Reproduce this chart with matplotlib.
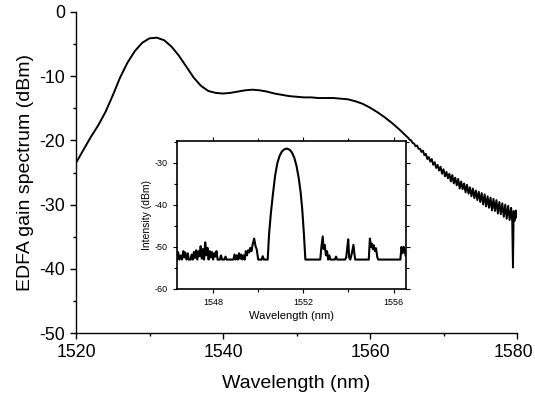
import matplotlib
matplotlib.use("Agg")
import matplotlib.pyplot as plt
import matplotlib.transforms as mtransforms
from matplotlib.ticker import MultipleLocator

plt.rcParams['font.family'] = ['Liberation Sans', 'DejaVu Sans']
plt.rcParams['axes.unicode_minus'] = False

# Main EDFA gain spectrum (smooth part, 1 nm steps)
main_wl = [1520, 1521, 1522, 1523, 1524, 1525, 1526, 1527, 1528, 1529,
           1530, 1531, 1532, 1533, 1534, 1535, 1536, 1537, 1538, 1539,
           1540, 1541, 1542, 1543, 1544, 1545, 1546, 1547, 1548, 1549,
           1550, 1551, 1552, 1553, 1554, 1555, 1556, 1557, 1558, 1559,
           1560, 1561, 1562, 1563, 1564, 1565]
main_db = [-23.5, -21.5, -19.5, -17.7, -15.6, -13.0, -10.2, -7.9, -6.1, -4.8,
           -4.1, -4.0, -4.4, -5.4, -6.8, -8.5, -10.2, -11.5, -12.3, -12.6,
           -12.7, -12.6, -12.4, -12.2, -12.1, -12.2, -12.4, -12.7, -12.9, -13.1,
           -13.2, -13.3, -13.3, -13.4, -13.4, -13.4, -13.5, -13.6, -13.9, -14.3,
           -14.9, -15.6, -16.4, -17.3, -18.3, -19.4]

# Noisy tail of the main spectrum
tail_wl = [1565.2, 1565.4, 1565.6, 1565.8, 1566.0, 1566.2, 1566.4, 1566.6, 1566.8,
           1567.0, 1567.2, 1567.4, 1567.6, 1567.8, 1568.0, 1568.2, 1568.4, 1568.6,
           1568.8, 1569.0, 1569.2, 1569.4, 1569.6, 1569.8, 1570.0, 1570.2, 1570.4,
           1570.6, 1570.8, 1571.0, 1571.2, 1571.4, 1571.6, 1571.8, 1572.0, 1572.2,
           1572.4, 1572.6, 1572.8, 1573.0, 1573.2, 1573.4, 1573.6, 1573.8, 1574.0,
           1574.2, 1574.4, 1574.6, 1574.8, 1575.0, 1575.2, 1575.4, 1575.6, 1575.8,
           1576.0, 1576.2, 1576.4, 1576.6, 1576.8, 1577.0, 1577.2, 1577.4, 1577.6,
           1577.8, 1578.0, 1578.2, 1578.4, 1578.6, 1578.8, 1579.0, 1579.2, 1579.35,
           1579.45, 1579.55, 1579.7, 1579.85, 1580.0]
tail_db = [-19.6, -19.9, -20.0, -20.4, -20.5, -20.9, -20.8, -21.3, -21.3,
           -21.8, -21.6, -22.3, -22.1, -22.9, -22.6, -23.3, -22.9, -23.8,
           -23.4, -24.3, -23.8, -24.7, -24.1, -25.2, -24.5, -25.6, -24.9,
           -25.9, -25.2, -26.4, -25.4, -26.7, -25.8, -27.0, -26.0, -27.5,
           -26.4, -27.6, -26.7, -28.1, -26.9, -28.3, -27.3, -28.7, -27.5,
           -29.0, -27.8, -29.3, -28.0, -29.6, -28.2, -30.0, -28.4, -30.3,
           -28.7, -30.5, -28.9, -30.9, -29.1, -31.0, -29.3, -31.4, -29.6,
           -31.5, -29.8, -31.9, -30.0, -32.2, -30.2, -32.4, -30.5, -32.6,
           -39.8, -31.0, -32.5, -30.9, -32.0]

# Inset: laser output spectrum
inset_wl = [1546.40, 1546.45, 1546.50, 1546.56, 1546.62, 1546.68, 1546.72, 1546.76,
            1546.82, 1546.88, 1546.92, 1547.00, 1547.05, 1547.10, 1547.15, 1547.20,
            1547.25, 1547.30, 1547.35, 1547.40, 1547.45, 1547.50, 1547.55, 1547.60,
            1547.65, 1547.70, 1547.75, 1547.80, 1547.85, 1547.90, 1547.95, 1548.00,
            1548.05, 1548.10, 1548.15, 1548.20, 1548.30, 1548.35, 1548.40, 1548.50,
            1548.55, 1548.60, 1548.90, 1548.95, 1549.00, 1549.05, 1549.10, 1549.15,
            1549.20, 1549.25, 1549.30, 1549.35, 1549.40, 1549.45, 1549.50, 1549.55,
            1549.60, 1549.65, 1549.70, 1549.75, 1549.82, 1549.88, 1549.93, 1550.00,
            1550.15, 1550.20, 1550.25, 1550.42,
            1550.48, 1550.56, 1550.65, 1550.75, 1550.85, 1550.95, 1551.05, 1551.15,
            1551.27, 1551.40, 1551.50, 1551.60, 1551.70, 1551.80, 1551.88, 1551.95,
            1552.02, 1552.09,
            1552.75, 1552.80, 1552.86, 1552.90, 1552.95, 1553.00, 1553.05, 1553.10,
            1553.15, 1553.20, 1553.40, 1553.45, 1553.50, 1553.85, 1553.90, 1553.95,
            1553.99, 1554.03, 1554.08, 1554.15, 1554.22, 1554.26, 1554.30, 1554.90,
            1554.95, 1555.00, 1555.04, 1555.08, 1555.12, 1555.17, 1555.22, 1555.28,
            1555.32, 1556.30, 1556.35, 1556.40, 1556.45, 1556.50, 1556.53]
inset_db = [-53.0, -51.2, -53.0, -52.0, -53.0, -51.0, -52.5, -51.3,
            -53.0, -51.5, -53.0, -53.0, -51.8, -53.0, -51.2, -52.6,
            -50.8, -53.0, -51.0, -52.2, -49.8, -52.8, -50.5, -53.0,
            -48.9, -52.0, -50.2, -53.0, -51.0, -52.5, -51.2, -53.0,
            -51.5, -52.3, -51.0, -53.0, -53.0, -52.0, -53.0, -53.0,
            -52.3, -53.0, -53.0, -51.8, -53.0, -52.0, -53.0, -51.5,
            -52.8, -51.8, -53.0, -52.0, -53.0, -51.0, -52.0, -50.8,
            -51.3, -50.2, -51.0, -49.5, -48.0, -49.8, -50.5, -53.0,
            -53.0, -52.2, -53.0, -53.0,
            -47.0, -42.0, -37.5, -33.0, -30.0, -28.3, -27.3, -26.8,
            -26.6, -26.9, -27.6, -28.8, -30.8, -33.8, -37.0, -41.0,
            -46.5, -53.0,
            -53.0, -50.0, -47.5, -50.5, -49.5, -52.0, -51.0, -53.0,
            -52.0, -53.0, -53.0, -52.3, -53.0, -53.0, -52.5, -50.0,
            -48.2, -52.5, -53.0, -51.5, -49.5, -51.5, -53.0, -53.0,
            -48.0, -50.0, -49.2, -50.5, -49.6, -51.0, -50.3, -52.5,
            -53.0, -53.0, -50.0, -51.5, -50.0, -51.0, -52.0]

main_xticks = [1520, 1540, 1560, 1580]
main_yticks = [0, -10, -20, -30, -40, -50]
inset_xticks = [1548, 1552, 1556]
inset_yticks = [-30, -40, -50, -60]

fig = plt.figure(figsize=(5.35, 3.95), dpi=100)
ax = fig.add_axes([76/535, 1-333/395, (517-76)/535, (333-12)/395])
ax.plot(main_wl + tail_wl, main_db + tail_db, color='black', lw=1.4)
ax.set_xlim(1520, 1580)
ax.set_ylim(-50, 0)
ax.set_xticks(main_xticks)
ax.set_yticks(main_yticks)
ax.xaxis.set_minor_locator(MultipleLocator(10))
ax.yaxis.set_minor_locator(MultipleLocator(5))
ax.spines['top'].set_visible(False)
ax.spines['right'].set_visible(False)
for s in ('left', 'bottom'):
    ax.spines[s].set_linewidth(1.0)
ax.tick_params(which='major', direction='out', length=4.5, width=1.0, labelsize=12.8)
ax.tick_params(which='minor', direction='out', length=2.5, width=1.0)
ax.set_xlabel('Wavelength (nm)', fontsize=14, labelpad=10)
ax.set_ylabel('EDFA gain spectrum (dBm)', fontsize=14, labelpad=4)

# keep the last x tick label inside the figure edge
fig.canvas.draw()
last_lbl = ax.get_xticklabels()[-1]
last_lbl.set_transform(last_lbl.get_transform() +
                       mtransforms.ScaledTranslation(-4/100, 0, fig.dpi_scale_trans))

ins = fig.add_axes([177/535, 1-289/395, (406-177)/535, (289-141)/395])
ins.plot(inset_wl, inset_db, color='black', lw=1.5)
ins.set_xlim(1546.4, 1556.55)
ins.set_ylim(-60, -24.8)
ins.set_xticks(inset_xticks)
ins.set_yticks(inset_yticks)
ins.xaxis.set_minor_locator(MultipleLocator(2))
ins.yaxis.set_minor_locator(MultipleLocator(5))
for s in ins.spines.values():
    s.set_linewidth(1.2)
ins.tick_params(which='both', direction='out', labelsize=6.5, width=0.8,
                top=True, right=True)
ins.tick_params(which='major', length=3)
ins.tick_params(which='minor', length=2)
ins.set_xlabel('Wavelength (nm)', fontsize=8, labelpad=3)
ins.set_ylabel('Intensity (dBm)', fontsize=7.5, labelpad=2)

fig.savefig('out.png', dpi=100)
